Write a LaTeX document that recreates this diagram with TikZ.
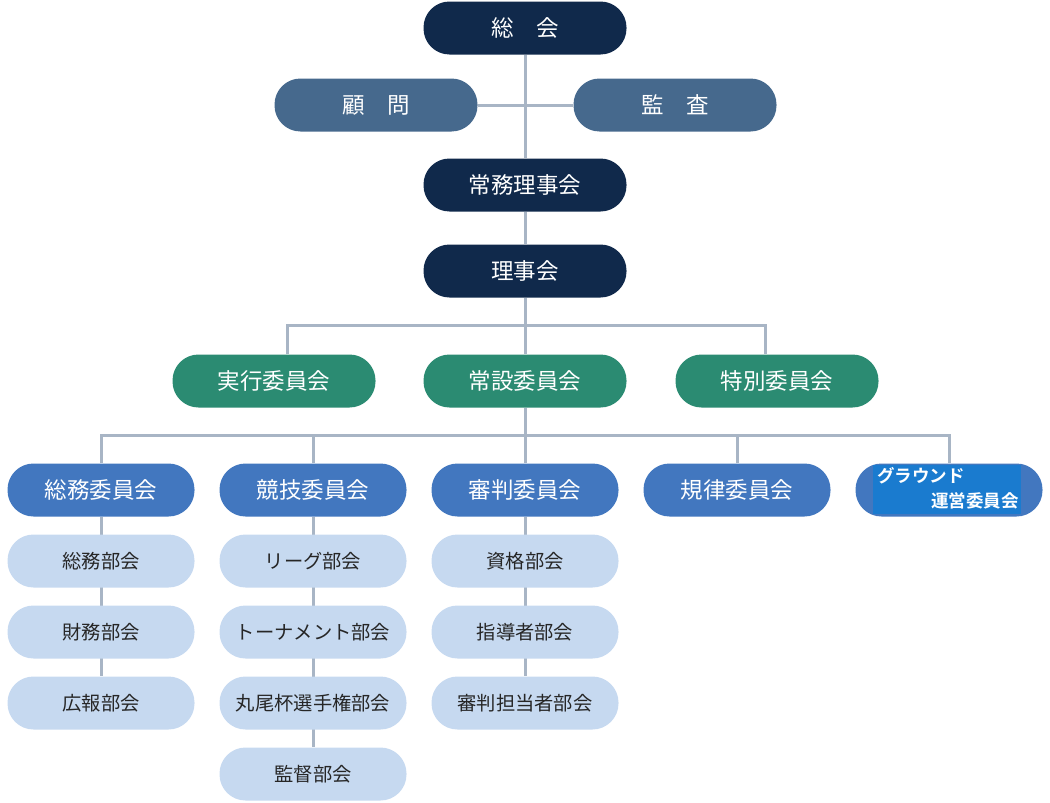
\documentclass[tikz,border=0pt]{standalone}
\usepackage{fontspec}
\newfontfamily\jp{Noto Sans CJK JP}
\newfontfamily\jpb{Noto Sans CJK JP Bold}
\usetikzlibrary{calc,backgrounds}
\definecolor{navy}{HTML}{10294B}
\definecolor{slate}{HTML}{46698D}
\definecolor{grn}{HTML}{2B8B72}
\definecolor{blu}{HTML}{4277BF}
\definecolor{lite}{HTML}{C6D9F0}
\definecolor{lin}{HTML}{A8B5C5}
\definecolor{gin}{HTML}{1A7BCF}
\tikzset{
  pill/.style={rectangle, rounded corners=26pt, minimum width=203pt, minimum height=53pt, inner sep=0pt, text=white, font=\jp\fontsize{22.5}{26}\selectfont},
  top/.style={pill, fill=navy},
  adv/.style={pill, fill=slate},
  com/.style={pill, fill=grn},
  sub/.style={pill, fill=blu, minimum width=187pt},
  leaf/.style={pill, fill=lite, minimum width=187pt, text=black!85, font=\jp\fontsize{19.3}{22}\selectfont},
  conn/.style={draw=lin, line width=3pt},
}
\begin{document}
\begin{tikzpicture}[x=1pt,y=-1pt]
\useasboundingbox (0,0) rectangle (1050,803);
\node[top] (sokai) at (525,28) {総\hspace{1em}会};
\node[adv] (komon) at (376,105) {顧\hspace{1em}問};
\node[adv] (kansa) at (675,105) {監\hspace{1em}査};
\node[top] (jomu) at (525,185) {常務理事会};
\node[top] (riji) at (525,271) {理事会};
\node[com] (jikko) at (274,381) {実行委員会};
\node[com] (josetsu) at (525,381) {常設委員会};
\node[com] (tokubetsu) at (777,381) {特別委員会};
\node[sub] (somu) at (101,490) {総務委員会};
\node[sub] (kyogi) at (313,490) {競技委員会};
\node[sub] (shinpan) at (525,490) {審判委員会};
\node[sub] (kiritsu) at (737,490) {規律委員会};
\node[sub] (ground) at (949,490) {};
\node[rectangle, fill=gin, minimum width=148pt, minimum height=49pt, inner sep=0pt] (gbox) at (947,489) {};
\node[anchor=base west, inner sep=0pt, text=white, font=\jpb\fontsize{17.5}{20}\selectfont] (g1) at (877,482) {グラウンド};
\node[anchor=base east, inner sep=0pt, text=white, font=\jpb\fontsize{17.5}{20}\selectfont] (g2) at (1019,507) {運営委員会};
\node[leaf] (a1) at (101,561) {総務部会};
\node[leaf] (a2) at (101,632) {財務部会};
\node[leaf] (a3) at (101,703) {広報部会};
\node[leaf] (b1) at (313,561) {リーグ部会};
\node[leaf] (b2) at (313,632) {トーナメント部会};
\node[leaf] (b3) at (313,703) {丸尾杯選手権部会};
\node[leaf] (b4) at (313,774) {監督部会};
\node[leaf] (c1) at (525,561) {資格部会};
\node[leaf] (c2) at (525,632) {指導者部会};
\node[leaf] (c3) at (525,703) {審判担当者部会};
\coordinate (busA) at (525,325);
\coordinate (busB) at (525,435);
\begin{pgfonlayer}{background}
\draw[conn] (sokai.south) -- (jomu.north);
\draw[conn] (komon.east) -- (kansa.west);
\draw[conn] (jomu.south) -- (riji.north);
\draw[conn] (riji.south) -- (josetsu.north);
\draw[conn] ($(jikko.north)+(13,0)$) |- (busA) -| ($(tokubetsu.north)+(-12,0)$);
\draw[conn] (josetsu.south) -- (shinpan.north);
\draw[conn] (somu.north) |- (busB) -| (ground.north);
\draw[conn] (kyogi.north) -- (kyogi.north |- busB);
\draw[conn] (kiritsu.north) -- (kiritsu.north |- busB);
\draw[conn] (somu.south) -- (a3.north);
\draw[conn] (kyogi.south) -- (b4.north);
\draw[conn] (shinpan.south) -- (c3.north);
\end{pgfonlayer}
\end{tikzpicture}
\end{document}
